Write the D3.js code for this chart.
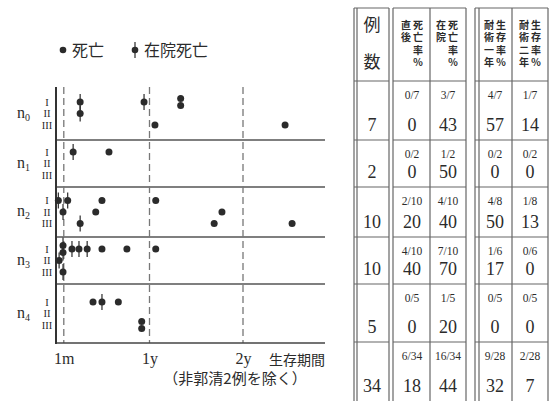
<!DOCTYPE html>
<html lang="ja">
<head>
<meta charset="UTF-8">
<title>生存期間</title>
<script src="https://d3js.org/d3.v7.min.js"></script>
<style>
  body { margin: 0; background: #fff; }
  text { fill: #2b2b2b; }
  .vert { writing-mode: vertical-rl; text-orientation: upright; }
</style>
</head>
<body>
<svg id="chart" width="554" height="401"></svg>
<script>
// --- data ---
var groups = ["n0", "n1", "n2", "n3", "n4"];
var stages = ["I", "II", "III"];

// each death: [stage, months after surgery, in-hospital death?]
var n0Deaths = [["I", 3.1, 1], ["II", 3.1, 1], ["I", 11.3, 1], ["III", 12.7, 0], ["I", 16.0, 0], ["I", 16.0, 0], ["III", 29.4, 0]];
var n1Deaths = [["I", 2.2, 1], ["I", 6.8, 0]];
var n2Deaths = [["I", 0.3, 1], ["I", 1.5, 1], ["I", 5.9, 0], ["I", 12.8, 0], ["II", 0.9, 1], ["II", 5.1, 0], ["II", 21.3, 0], ["III", 3.1, 1], ["III", 20.3, 0], ["III", 30.3, 0]];
var n3Deaths = [["I", 0.9, 1], ["I", 0.9, 1], ["I", 2.05, 1], ["I", 2.95, 1], ["I", 4.0, 1], ["I", 5.9, 0], ["I", 9.1, 0], ["I", 12.8, 0], ["II", 0.4, 1], ["III", 0.9, 1]];
var n4Deaths = [["I", 4.75, 0], ["I", 5.9, 1], ["I", 8.0, 0], ["III", 11.0, 0], ["III", 11.0, 0]];
var allDeaths = [n0Deaths, n1Deaths, n2Deaths, n3Deaths, n4Deaths];

var tickMonths = [1, 12, 24];
var tickLabels = ["1m", "1y", "2y"];

// table
var cases       = ["7", "2", "10", "10", "5", "34"];
var directFrac  = ["0/7", "0/2", "2/10", "4/10", "0/5", "6/34"];
var directRate  = ["0", "0", "20", "40", "0", "18"];
var hospFrac    = ["3/7", "1/2", "4/10", "7/10", "1/5", "16/34"];
var hospRate    = ["43", "50", "40", "70", "20", "44"];
var surv1Frac   = ["4/7", "0/2", "4/8", "1/6", "0/5", "9/28"];
var surv1Rate   = ["57", "0", "50", "17", "0", "32"];
var surv2Frac   = ["1/7", "0/2", "1/8", "0/6", "0/5", "2/28"];
var surv2Rate   = ["14", "0", "13", "0", "0", "7"];

// --- layout ---
var svg = d3.select("#chart");
var serif = "'Liberation Serif', 'DejaVu Serif', serif";
var jp = "'Noto Sans CJK JP', sans-serif";
var ink = "#2b2b2b";

var plotLeft = 56, plotRight = 325, plotTop = 87, plotBottom = 343;
var rowEdges = [87, 140, 187, 237, 284, 343];

var x = d3.scaleLinear().domain([0, 24]).range([plotLeft, 243]);
var rowTop = d3.scaleOrdinal().domain(groups).range(rowEdges.slice(0, 5));
var rowBottom = d3.scaleOrdinal().domain(groups).range(rowEdges.slice(1));
function rowMid(g) { return (rowTop(g) + rowBottom(g)) / 2; }
var stageY = d3.scalePoint().domain(stages).range([-11.5, 11.5]);

// legend
var leg = svg.append("g");
leg.append("circle").attr("cx", 63).attr("cy", 50).attr("r", 3.3).attr("fill", ink);
leg.append("text").attr("x", 72).attr("y", 56).attr("font-family", jp).attr("font-size", 16).text("死亡");
leg.append("line").attr("x1", 135).attr("x2", 135).attr("y1", 42).attr("y2", 58).attr("stroke", ink).attr("stroke-width", 1.2);
leg.append("circle").attr("cx", 135).attr("cy", 50).attr("r", 3.3).attr("fill", ink);
leg.append("text").attr("x", 144).attr("y", 56).attr("font-family", jp).attr("font-size", 16).text("在院死亡");

// row separators
svg.append("g").selectAll("line").data(groups.slice(1)).join("line")
  .attr("x1", plotLeft).attr("x2", plotRight)
  .attr("y1", function(g) { return rowTop(g); }).attr("y2", function(g) { return rowTop(g); })
  .attr("stroke", "#555").attr("stroke-width", 1.4);

// dashed guides at 1m, 1y, 2y
svg.append("g").selectAll("line").data(tickMonths).join("line")
  .attr("x1", function(d) { return x(d); }).attr("x2", function(d) { return x(d); })
  .attr("y1", plotTop).attr("y2", plotBottom)
  .attr("stroke", "#777").attr("stroke-width", 1.3).attr("stroke-dasharray", "7,4");

// axes
var axisX = svg.append("g").attr("transform", "translate(0," + plotBottom + ")")
  .call(d3.axisBottom(x).tickValues(tickMonths).tickSize(0).tickFormat(function(d, i) { return tickLabels[i]; }));
axisX.select(".domain").attr("d", "M" + plotLeft + ",0H" + plotRight).attr("stroke", "#444").attr("stroke-width", 1.6);
axisX.selectAll("text").attr("font-family", serif).attr("font-size", 16).attr("dy", "1.1em").attr("fill", ink);

svg.append("line").attr("x1", plotLeft).attr("x2", plotLeft).attr("y1", plotTop).attr("y2", plotBottom + 1)
  .attr("stroke", "#333").attr("stroke-width", 2);

svg.append("text").attr("x", 269).attr("y", 365).attr("font-family", jp).attr("font-size", 14).text("生存期間");
svg.append("text").attr("x", 235).attr("y", 384).attr("text-anchor", "middle")
  .attr("font-family", jp).attr("font-size", 15).text("（非郭清2例を除く）");

// row labels
var lab = svg.append("g").selectAll("g").data(groups).join("g");
lab.append("text").attr("x", 17).attr("y", function(g) { return rowMid(g) + 4; })
  .attr("font-family", serif).attr("font-size", 16).attr("fill", "#555")
  .each(function(g) {
    d3.select(this).append("tspan").text("n");
    d3.select(this).append("tspan").attr("font-size", 10).attr("dy", 3).text(g.slice(1));
  });
lab.selectAll(".st").data(function(g) { return stages.map(function(s) { return [g, s]; }); }).join("text")
  .attr("class", "st").attr("x", 47).attr("text-anchor", "middle")
  .attr("y", function(d) { return rowMid(d[0]) + stageY(d[1]) + 3.5; })
  .attr("font-family", serif).attr("font-size", 10.5).text(function(d) { return d[1]; });

// death markers, equal entries are stacked
var marks = [];
allDeaths.forEach(function(list, gi) {
  var seen = {};
  list.forEach(function(d) {
    var key = d[0] + "_" + d[1];
    var same = list.filter(function(e) { return e[0] === d[0] && e[1] === d[1]; }).length;
    seen[key] = (seen[key] || 0);
    marks.push({ g: groups[gi], stage: d[0], m: d[1], hosp: d[2], k: seen[key], n: same });
    seen[key]++;
  });
});
function markY(d) { return rowMid(d.g) + stageY(d.stage) + (d.k - (d.n - 1) / 2) * 7; }

var mk = svg.append("g").selectAll("g").data(marks).join("g")
  .attr("transform", function(d) { return "translate(" + x(d.m) + "," + markY(d) + ")"; });
mk.filter(function(d) { return d.hosp; }).append("line")
  .attr("y1", -8).attr("y2", 8).attr("stroke", ink).attr("stroke-width", 1.2);
mk.append("circle").attr("r", 3.5).attr("fill", ink);

// --- table ---
var tRows = d3.range(6);
var tTop = d3.scaleOrdinal().domain(tRows).range([81, 140, 187, 237, 284, 342]);
var tBot = d3.scaleOrdinal().domain(tRows).range([140, 187, 237, 284, 342, 401]);
var tb = svg.append("g");
var grid = "#666";

function vline(xx) {
  tb.append("line").attr("x1", xx).attr("x2", xx).attr("y1", 8).attr("y2", 401).attr("stroke", grid).attr("stroke-width", 1.2);
}
[354, 357, 389, 393, 430, 466, 475, 479, 512, 548].forEach(vline);
var boxes = [[354, 389], [393, 466], [475, 548]];
[8, 81, 140, 187, 237, 284, 342].forEach(function(yy) {
  boxes.forEach(function(b) {
    tb.append("line").attr("x1", b[0]).attr("x2", b[1]).attr("y1", yy).attr("y2", yy).attr("stroke", grid).attr("stroke-width", 1.2);
  });
});

// headers in vertical writing, two columns per cell
tb.append("text").attr("x", 372).attr("y", 31).attr("text-anchor", "middle").attr("font-family", jp).attr("font-size", 17).text("例");
tb.append("text").attr("x", 372).attr("y", 68).attr("text-anchor", "middle").attr("font-family", jp).attr("font-size", 17).text("数");
var headCols = [
  [406, "直後", 418, "死亡率％"],
  [441, "在院", 453, "死亡率％"],
  [489, "耐術一年", 501, "生存率％"],
  [524, "耐術二年", 536, "生存率％"]
];
headCols.forEach(function(h) {
  [[h[0], h[1]], [h[2], h[3]]].forEach(function(c) {
    tb.append("text").attr("class", "vert").attr("x", c[0]).attr("y", 20)
      .attr("font-family", jp).attr("font-size", 10).attr("font-weight", 700)
      .attr("letter-spacing", 2.5).text(c[1]);
  });
});

var colX = [372, 412, 448, 495, 530];
var fracCols = [null, directFrac, hospFrac, surv1Frac, surv2Frac];
var bigCols = [cases, directRate, hospRate, surv1Rate, surv2Rate];
bigCols.forEach(function(col, ci) {
  tb.append("g").selectAll("text").data(col).join("text")
    .attr("x", colX[ci]).attr("y", function(d, i) { return tBot(i) - 9; })
    .attr("text-anchor", "middle").attr("font-family", serif).attr("font-size", 18).text(function(d) { return d; });
  if (fracCols[ci]) {
    tb.append("g").selectAll("text").data(fracCols[ci]).join("text")
      .attr("x", colX[ci]).attr("y", function(d, i) { return tTop(i) + 18; })
      .attr("text-anchor", "middle").attr("font-family", serif).attr("font-size", 11.5).text(function(d) { return d; });
  }
});
</script>
</body>
</html>
